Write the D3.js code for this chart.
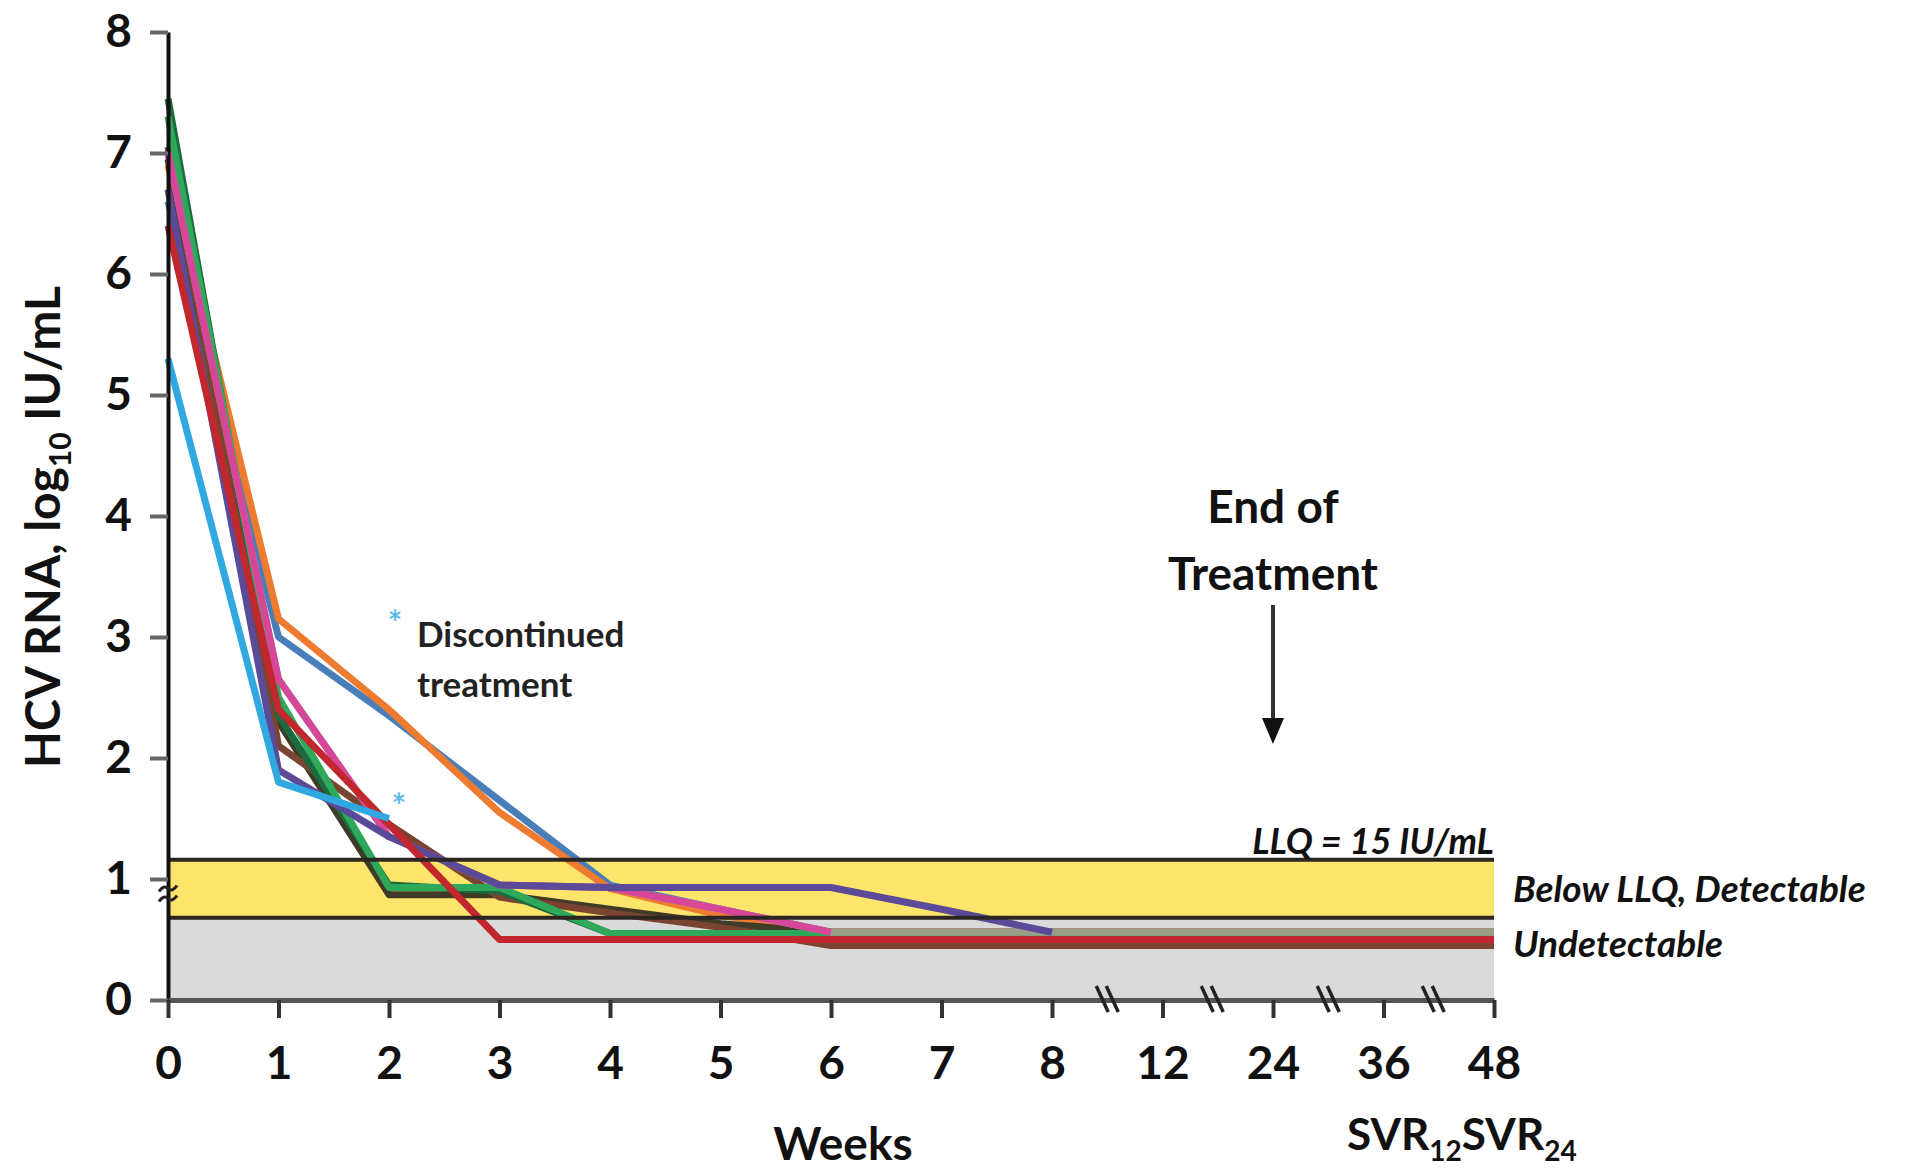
<!DOCTYPE html>
<html>
<head>
<meta charset="utf-8">
<script src="https://cdn.jsdelivr.net/npm/d3@7"></script>
<style>
  body { margin: 0; background: #fff; }
  svg { display: block; font-family: Lato, "Open Sans", sans-serif; }
</style>
</head>
<body>
<div id="chart"></div>
<script>
// tick labels along the x axis (equally spaced, axis is broken after 8)
let weekLabels = ["0", "1", "2", "3", "4", "5", "6", "7", "8", "12", "24", "36", "48"];
let yTicks = [0, 1, 2, 3, 4, 5, 6, 7, 8];

// one array per patient, value at each week label (null = no value)
let blueVals   = [6.6, 3.0, 2.35, 1.65, 0.95, 0.75, 0.56, 0.56, 0.56, 0.56, 0.56, 0.56, 0.56];
let orangeVals = [6.9, 3.15, 2.4, 1.55, 0.92, 0.7, 0.56, 0.56, 0.56, 0.56, 0.56, 0.56, 0.56];
let oliveVals  = [6.95, 2.3, 0.87, 0.87, 0.75, 0.63, 0.56, 0.56, 0.56, 0.56, 0.56, 0.56, 0.56];
let brownVals  = [7.05, 2.1, 1.45, 0.85, 0.72, 0.6, 0.45, 0.45, 0.45, 0.45, 0.45, 0.45, 0.45];
let dkGreenVals = [7.45, 2.35, 0.95, 0.9, 0.55, 0.55, 0.55, 0.55, 0.55, 0.55, 0.55, 0.55, 0.55];
let greenVals  = [7.3, 2.5, 0.93, 0.93, 0.55, 0.55, 0.55, 0.55, 0.55, 0.55, 0.55, 0.55, 0.55];
let grayVals   = [7.0, 2.65, 1.35, 0.95, 0.93, 0.75, 0.56, 0.56, 0.56, 0.56, 0.56, 0.56, 0.56];
let pinkVals   = [7.0, 2.65, 1.35, 0.95, 0.93, 0.75, 0.56, null, null, null, null, null, null];
let purpleVals = [6.7, 1.9, 1.35, 0.95, 0.93, 0.93, 0.93, 0.75, 0.56, null, null, null, null];
let redVals    = [6.4, 2.4, 1.45, 0.5, 0.5, 0.5, 0.5, 0.5, 0.5, 0.5, 0.5, 0.5, 0.5];
let ltBlueVals = [5.3, 1.8, 1.5, null, null, null, null, null, null, null, null, null, null];

let seriesColors = ["#4a7ebb", "#ee7b30", "#403b27", "#7a4430", "#1d6a3e", "#2ea85a",
                    "#9a9e86", "#d6479a", "#5b4a98", "#c1272d", "#2fa9e0"];

// bands
let llq = 1.16;          // LLQ = 15 IU/mL
let undetectTop = 0.68;  // top of undetectable zone
let breakPositions = [8.5, 9.45, 10.5, 11.45]; // x-axis break marks (in label index units)
let eotIndex = 10;       // "End of Treatment" arrow at week 24

let allSeries = [blueVals, orangeVals, oliveVals, brownVals, dkGreenVals, greenVals,
                 grayVals, pinkVals, purpleVals, redVals, ltBlueVals];

let width = 1908, height = 1171;

let svg = d3.select("#chart").append("svg")
    .attr("width", width)
    .attr("height", height);

let x = d3.scaleLinear().domain([0, weekLabels.length - 1]).range([168, 1494]);
let y = d3.scaleLinear().domain([0, 8]).range([1000, 32]);

// gray undetectable zone and yellow detectable zone
svg.append("rect")
    .attr("x", x(0)).attr("y", y(undetectTop))
    .attr("width", x(12) - x(0)).attr("height", y(0) - y(undetectTop))
    .attr("fill", "#dadada");
svg.append("rect")
    .attr("x", x(0)).attr("y", y(llq))
    .attr("width", x(12) - x(0)).attr("height", y(undetectTop) - y(llq))
    .attr("fill", "#fde46b");

// patient lines
let line = d3.line()
    .defined(d => d != null)
    .x((d, i) => x(i))
    .y(d => y(d));

svg.selectAll(".patient")
    .data(allSeries)
    .enter()
    .append("path")
    .attr("class", "patient")
    .attr("d", d => line(d))
    .attr("fill", "none")
    .attr("stroke", (d, i) => seriesColors[i])
    .attr("stroke-width", 7)
    .attr("stroke-linejoin", "round");

// band border lines
[llq, undetectTop].forEach(v => {
    svg.append("line")
        .attr("x1", x(0)).attr("x2", x(12))
        .attr("y1", y(v)).attr("y2", y(v))
        .attr("stroke", "#2b2622")
        .attr("stroke-width", 4);
});

// axes
let yAxis = d3.axisLeft(y)
    .tickValues(yTicks)
    .tickSize(18)
    .tickSizeOuter(0)
    .tickPadding(18);

let yG = svg.append("g")
    .attr("transform", "translate(" + x(0) + ",0)")
    .call(yAxis);
yG.select(".domain").attr("stroke", "#111").attr("stroke-width", 4);
yG.selectAll(".tick line").attr("stroke", "#666").attr("stroke-width", 4);
yG.selectAll(".tick text")
    .attr("font-size", 46).attr("font-weight", 700).attr("fill", "#111")
    .attr("font-family", "Lato, sans-serif");

let xAxis = d3.axisBottom(x)
    .tickValues(d3.range(weekLabels.length))
    .tickFormat(i => weekLabels[i])
    .tickSize(18)
    .tickSizeOuter(0)
    .tickPadding(28);

let xG = svg.append("g")
    .attr("transform", "translate(0," + y(0) + ")")
    .call(xAxis);
xG.select(".domain").attr("stroke", "#555").attr("stroke-width", 5);
xG.selectAll(".tick line").attr("stroke", "#333").attr("stroke-width", 4);
xG.selectAll(".tick text")
    .attr("font-size", 46).attr("font-weight", 700).attr("fill", "#111")
    .attr("font-family", "Lato, sans-serif");

// x-axis break marks
breakPositions.forEach(p => {
    [-5, 5].forEach(off => {
        svg.append("line")
            .attr("x1", x(p) + off - 6).attr("y1", y(0) - 14)
            .attr("x2", x(p) + off + 6).attr("y2", y(0) + 12)
            .attr("stroke", "#222").attr("stroke-width", 3.5);
    });
});

// y-axis break mark
[-5, 5].forEach(off => {
    let yy = y(0.88) + off;
    svg.append("path")
        .attr("d", "M" + (x(0) - 9) + "," + (yy + 3) +
                   " q4.5,-7 9,-3 q4.5,4 9,-3")
        .attr("fill", "none")
        .attr("stroke", "#222")
        .attr("stroke-width", 3);
});

// axis titles
svg.append("text")
    .attr("x", 843).attr("y", 1160)
    .attr("text-anchor", "middle")
    .attr("font-size", 46).attr("font-weight", 700).attr("fill", "#111")
    .text("Weeks");

let yTitle = svg.append("text")
    .attr("transform", "translate(60,527) rotate(-90)")
    .attr("text-anchor", "middle")
    .attr("font-size", 48).attr("font-weight", 700).attr("fill", "#111");
yTitle.append("tspan").text("HCV RNA, log");
yTitle.append("tspan").attr("dy", 11).attr("font-size", 30).text("10");
yTitle.append("tspan").attr("dy", -11).text(" IU/mL");

// SVR labels under 36 and 48
let svr = svg.append("text")
    .attr("x", 1347).attr("y", 1150)
    .attr("font-size", 44).attr("font-weight", 700).attr("fill", "#111");
svr.append("tspan").text("SVR");
svr.append("tspan").attr("dy", 11).attr("font-size", 28).text("12");
svr.append("tspan").attr("dy", -11).text("SVR");
svr.append("tspan").attr("dy", 11).attr("font-size", 28).text("24");

// end of treatment annotation
svg.append("text")
    .attr("x", x(eotIndex)).attr("y", 523)
    .attr("text-anchor", "middle")
    .attr("font-size", 46).attr("font-weight", 700).attr("fill", "#111")
    .text("End of");
svg.append("text")
    .attr("x", x(eotIndex)).attr("y", 590)
    .attr("text-anchor", "middle")
    .attr("font-size", 46).attr("font-weight", 700).attr("fill", "#111")
    .text("Treatment");
svg.append("line")
    .attr("x1", x(eotIndex)).attr("x2", x(eotIndex))
    .attr("y1", 605).attr("y2", 730)
    .attr("stroke", "#333").attr("stroke-width", 4);
svg.append("path")
    .attr("d", "M" + (x(eotIndex) - 11) + ",718 L" + (x(eotIndex) + 11) + ",718 L" +
               x(eotIndex) + ",744 Z")
    .attr("fill", "#111");

// band labels
svg.append("text")
    .attr("x", x(12)).attr("y", 854)
    .attr("text-anchor", "end")
    .attr("font-size", 36).attr("font-weight", 700).attr("font-style", "italic")
    .attr("fill", "#111")
    .text("LLQ = 15 IU/mL");
svg.append("text")
    .attr("x", 1513).attr("y", 902)
    .attr("font-size", 37).attr("font-weight", 700).attr("font-style", "italic")
    .attr("fill", "#111")
    .text("Below LLQ, Detectable");
svg.append("text")
    .attr("x", 1513).attr("y", 957)
    .attr("font-size", 37).attr("font-weight", 700).attr("font-style", "italic")
    .attr("fill", "#111")
    .text("Undetectable");

// discontinued treatment note
svg.append("text")
    .attr("x", 417).attr("y", 647)
    .attr("font-size", 35).attr("font-weight", 700).attr("fill", "#222")
    .text("Discontinued");
svg.append("text")
    .attr("x", 417).attr("y", 697)
    .attr("font-size", 35).attr("font-weight", 700).attr("fill", "#222")
    .text("treatment");
[[395, 635], [x(2) + 10, 818]].forEach(p => {
    svg.append("text")
        .attr("x", p[0]).attr("y", p[1])
        .attr("text-anchor", "middle")
        .attr("font-size", 34).attr("font-weight", 700).attr("fill", "#5bbbe8")
        .text("*");
});
</script>
</body>
</html>
